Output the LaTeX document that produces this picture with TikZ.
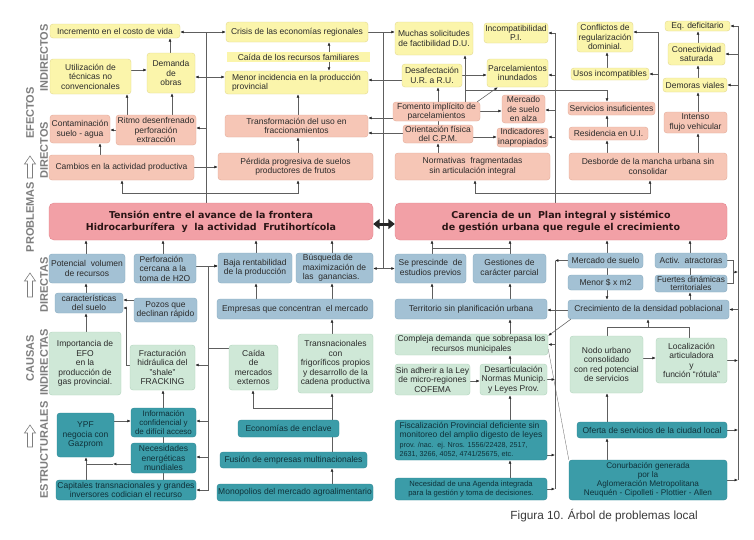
\documentclass[tikz,border=0pt]{standalone}
\usepackage{fontspec}
\setmainfont{Liberation Sans}
\newfontfamily\titlefont{DejaVu Sans}
\usetikzlibrary{arrows.meta}
\pgfdeclarelayer{back}
\pgfdeclarelayer{bg}
\pgfsetlayers{back,bg,main}
\definecolor{yf}{HTML}{FBF5AB}
\definecolor{yd}{HTML}{E3D98F}
\definecolor{sf}{HTML}{F6C6B6}
\definecolor{sd}{HTML}{E5AB99}
\definecolor{rf}{HTML}{F2A0A6}
\definecolor{rd}{HTML}{E3868E}
\definecolor{bf}{HTML}{A3C1D4}
\definecolor{bd}{HTML}{87AAC0}
\definecolor{gf}{HTML}{CFE8D7}
\definecolor{gd}{HTML}{B2D5BE}
\definecolor{tf}{HTML}{3B9CA8}
\definecolor{td}{HTML}{2B8592}
\definecolor{lc}{HTML}{5E5E5E}
\definecolor{txt}{HTML}{2B2B2B}
\definecolor{ttxt}{HTML}{10323A}
\definecolor{rtxt}{HTML}{2A1515}
\definecolor{labc}{HTML}{7D7D7D}
\definecolor{capc}{HTML}{3A3A3A}
\newcommand\mkbox[7]{%
  \pgfmathsetmacro\bxw{#5-#3}%
  \pgfmathsetmacro\bxh{#6-#4}%
  \node[#2, minimum width=\bxw pt, minimum height=\bxh pt] (#1) at ({(#3+#5)/2},{(#4+#6)/2}) {#7};}
\newcommand\hollowup[3]{\draw[labc, line width=0.6pt, fill=white] (#1-2.5,#3) -- (#1-2.5,#2+8) -- (#1-5.5,#2+8) -- (#1,#2) -- (#1+5.5,#2+8) -- (#1+2.5,#2+8) -- (#1+2.5,#3) -- cycle;}
\begin{document}
\begin{tikzpicture}[x=1pt,y=-1pt,
  bxs/.style={rounded corners=3pt, inner sep=0.5pt, align=center, font=\fontsize{8.5}{9.5}\selectfont, line width=0.4pt, text=txt},
  yb/.style={bxs, fill=yf, draw=yd},
  sb/.style={bxs, fill=sf, draw=sd},
  rb/.style={bxs, fill=rf, draw=rd, rounded corners=5pt, font=\titlefont\fontsize{9.5}{12.5}\selectfont\bfseries, text=rtxt},
  bb/.style={bxs, fill=bf, draw=bd},
  gb/.style={bxs, fill=gf, draw=gd},
  tb/.style={bxs, fill=tf, draw=td, text=ttxt},
  ln/.style={draw=lc, line width=0.55pt},
  arr/.style={ln, -{Latex[length=3.4pt,width=2.8pt,color=black!85]}},
  lab/.style={rotate=90, font=\fontsize{11}{12}\selectfont\bfseries, text=labc, inner sep=0pt},
  dbl/.style={draw=black!85, line width=3pt, {Triangle[length=6.5pt,width=10pt]}-{Triangle[length=6.5pt,width=10pt]}}
]
\useasboundingbox (0,0) rectangle (754,539);
\begin{pgfonlayer}{back}
\fill[white] (0,0) rectangle (754,539);
\end{pgfonlayer}

% ---------- section labels ----------
\node[lab] (lEfe) at (30,113) {EFECTOS};
\node[lab] (lInd) at (44,58) {INDIRECTOS};
\node[lab] (lDir) at (44,150) {DIRECTOS};
\node[lab] (lPro) at (30,217) {PROBLEMAS};
\node[lab] (lDta) at (44,285) {DIRECTAS};
\node[lab] (lCau) at (30,358) {CAUSAS};
\node[lab] (lIta) at (44,362) {INDIRECTAS};
\node[lab] (lEst) at (44,450) {ESTRUCTURALES};
\hollowup{30}{156}{178}
\hollowup{30}{273}{297}
\hollowup{30}{425}{447}

% ---------- effects (yellow) ----------
\mkbox{inc}{yb}{50}{24}{180}{38}{Incremento en el costo de vida}
\mkbox{uti}{yb}{50}{59}{131}{94}{Utilización de\\técnicas no\\convencionales}
\mkbox{dem}{yb}{147}{53}{195}{93}{Demanda\\de\\obras}
\mkbox{cri}{yb}{226}{22}{368}{42}{Crisis de las economías regionales}
\mkbox{caf}{yb,rounded corners=0pt,draw=none}{227}{52}{370}{62}{Caída de los recursos familiares}
\mkbox{men}{yb,align=left}{225}{71}{368}{94}{Menor incidencia en la producción\\provincial}
\mkbox{muc}{yb}{395}{22}{473}{55}{Muchas solicitudes\\de factibilidad D.U.}
\mkbox{inp}{yb}{484}{23}{548}{43}{Incompatibilidad\\P.I.}
\mkbox{des}{yb}{402}{64}{462}{87}{Desafectación\\U.R. a R.U.}
\mkbox{par}{yb}{487}{59}{548}{87}{Parcelamientos\\inundados}
\mkbox{con}{yb}{577}{22}{633}{52}{Conflictos de\\regularización\\dominial.}
\mkbox{eqd}{yb}{665}{21}{730}{31}{Eq. deficitario}
\mkbox{cns}{yb}{668}{43}{725}{65}{Conectividad\\saturada}
\mkbox{uso}{yb}{571}{68}{649}{80}{Usos incompatibles}
\mkbox{dmv}{yb}{663}{78}{727}{92}{Demoras viales}

% ---------- effects (salmon) ----------
\mkbox{ctm}{sb}{50}{115}{110}{143}{Contaminación\\suelo - agua}
\mkbox{rit}{sb}{116}{115}{196}{145}{Ritmo desenfrenado\\perforación\\extracción}
\mkbox{cam}{sb}{49}{155}{194}{180}{Cambios en la actividad productiva}
\mkbox{tra}{sb}{225}{115}{368}{137}{Transformación del uso en\\fraccionamientos}
\mkbox{per}{sb}{218}{153}{373}{180}{Pérdida progresiva de suelos\\productores de frutos}
\mkbox{fom}{sb}{393}{102}{480}{121}{Fomento implícito de\\parcelamientos}
\mkbox{mer}{sb}{502}{95}{545}{123}{Mercado\\de suelo\\en alza}
\mkbox{ori}{sb}{403}{125}{473}{143}{Orientación física\\del C.P.M.}
\mkbox{ind}{sb}{497}{128}{548}{147}{Indicadores\\inapropiados}
\mkbox{nor}{sb}{395}{153}{550}{180}{Normativas\ \ fragmentadas\\sin articulación integral}
\mkbox{ser}{sb}{568}{102}{655}{115}{Servicios insuficientes}
\mkbox{res}{sb}{569}{127}{648}{140}{Residencia en U.I.}
\mkbox{int}{sb}{664}{112}{727}{133}{Intenso\\flujo vehicular}
\mkbox{dbo}{sb}{569}{153}{727}{180}{Desborde de la mancha urbana sin\\consolidar}

% ---------- problems ----------
\mkbox{ten}{rb}{49}{203}{373}{240}{Tensión entre el avance de la frontera\\Hidrocarburífera\ \ y\ \ la actividad\ \ Frutihortícola}
\mkbox{car}{rb}{395}{203}{727}{240}{Carencia de un\ \ Plan integral y sistémico\\de gestión urbana que regule el crecimiento}

% ---------- direct causes (blue) ----------
\mkbox{pot}{bb}{49}{254}{125}{283}{Potencial\ \ volumen\\de recursos}
\mkbox{pce}{bb,align=left}{134}{254}{196}{283}{Perforación\\cercana a la\\toma de H2O}
\mkbox{cs}{bb}{55}{293}{123}{313}{características\\del suelo}
\mkbox{poz}{bb}{134}{298}{197}{322}{Pozos que\\declinan rápido}
\mkbox{baj}{bb}{218}{253}{292}{283}{Baja rentabilidad\\de la producción}
\mkbox{bus}{bb,align=left}{296}{253}{373}{283}{Búsqueda de\\maximización de\\las\ \ ganancias.}
\mkbox{emp}{bb}{217}{299}{373}{319}{Empresas que concentran\ \ el mercado}
\mkbox{sep}{bb}{395}{254}{466}{283}{Se prescinde\ \ de\\estudios previos}
\mkbox{ges}{bb}{473}{254}{546}{283}{Gestiones de\\carácter parcial}
\mkbox{ter}{bb}{395}{299}{547}{319}{Territorio sin planificación urbana}
\mkbox{mds}{bb}{568}{253}{643}{268}{Mercado de suelo}
\mkbox{act}{bb}{655}{253}{727}{268}{Activ.\ \ atractoras}
\mkbox{mnr}{bb}{568}{275}{643}{290}{Menor \$ x m2}
\mkbox{fue}{bb,font=\fontsize{8.3}{8.6}\selectfont}{655}{275}{727}{292}{Fuertes dinámicas\\territoriales}
\mkbox{cre}{bb}{568}{300}{729}{319}{Crecimiento de la densidad poblacional}

% ---------- indirect causes (green) ----------
\mkbox{imp}{gb}{49}{332}{121}{395}{Importancia de\\EFO\\en la\\producción de\\gas provincial.}
\mkbox{fra}{gb}{130}{345}{195}{390}{Fracturación\\hidráulica del\\"shale"\\FRACKING}
\mkbox{cai}{gb}{229}{345}{278}{390}{Caída\\de\\mercados\\externos}
\mkbox{trn}{gb}{298}{334}{373}{393}{Transnacionales\\con\\frigoríficos propios\\y desarrollo de la\\cadena productiva}
\mkbox{cmp}{gb}{395}{334}{548}{355}{Compleja demanda\ \ que sobrepasa los\\recursos municipales}
\mkbox{sin}{gb}{395}{364}{470}{395}{Sin adherir a la Ley\\de micro-regiones\\COFEMA}
\mkbox{dsa}{gb}{480}{364}{547}{395}{Desarticulación\\Normas Municip.\\y Leyes Prov.}
\mkbox{nod}{gb}{570}{336}{643}{393}{Nodo urbano\\consolidado\\con red potencial\\de servicios}
\mkbox{loc}{gb}{656}{338}{727}{383}{Localización\\articuladora\\y\\función ``rótula''}

% ---------- structural causes (teal) ----------
\mkbox{ypf}{tb}{57}{413}{114}{457}{YPF\\negocia con\\Gazprom}
\mkbox{inf}{tb,font=\fontsize{8}{9.3}\selectfont}{131}{408}{196}{437}{Información\\confidencial y\\de difícil acceso}
\mkbox{nec}{tb}{131}{443}{196}{473}{Necesidades\\energéticas\\mundiales}
\mkbox{capt}{tb}{56}{480}{196}{500}{Capitales transnacionales y grandes\\inversores codician el recurso}
\mkbox{eco}{tb}{238}{420}{339}{437}{Economías de enclave}
\mkbox{fus}{tb}{220}{452}{367}{468}{Fusión de empresas multinacionales}
\mkbox{mon}{tb}{217}{484}{373}{501}{Monopolios del mercado agroalimentario}
\mkbox{fis}{tb,align=left}{395}{420}{547}{460}{Fiscalización Provincial deficiente sin\\monitoreo del amplio digesto de leyes\\\fontsize{7.2}{8}\selectfont prov. /nac.\ \ ej. Nros. 1556/22428, 2517,\\\fontsize{7.2}{8}\selectfont 2631, 3266, 4052, 4741/25675, etc.}
\mkbox{nea}{tb,font=\fontsize{7.6}{8.8}\selectfont}{395}{478}{547}{500}{Necesidad de una Agenda integrada\\para la gestión y toma de decisiones.}
\mkbox{ofe}{tb}{577}{422}{727}{438}{Oferta de servicios de la ciudad local}
\mkbox{cnu}{tb,font=\fontsize{8.2}{9}\selectfont}{569}{460}{727}{500}{Conurbación generada\\por la\\Aglomeración Metropolitana\\Neuquén - Cipolleti - Plottier - Allen}

% caption
\node[anchor=base east, inner sep=0pt, font=\fontsize{11.8}{12}\selectfont, text=capc] (cap) at (698,519) {Figura 10. Árbol de problemas local};

% double arrow between the problems
\draw[dbl] (ten.east |- 0,224) -- (car.west |- 0,224);

\begin{pgfonlayer}{bg}
% ----- left effects -----
\draw[arr] (dem.north -| 170,0) -- (inc.south -| 170,0);
\draw[arr] (uti.east |- 0,70) -- (dem.west |- 0,70);
\draw[arr] (rit.north -| 172,0) -- (dem.south -| 172,0);
\draw[arr] (rit.north -| 127,0) -- (uti.south -| 127,0);
\draw[arr] (rit.west |- 0,130) -- (ctm.east |- 0,130);
\draw[arr] (cam.north -| 100,0) -- (ctm.south -| 100,0);
\draw[arr] (cam.east |- 0,167) -- (per.west |- 0,167);
\draw[arr] (ten.north -| 206,0) |- (inc.east |- 0,32);
\draw[arr] (ten.north -| 206,0) |- (cri.west |- 0,32);
\draw[arr] (ten.north -| 206,0) |- (dem.east |- 0,77);
\draw[arr] (ten.north -| 206,0) |- (men.west |- 0,77);
\draw[arr] (ten.north -| 206,0) |- (rit.east |- 0,128);
\draw[arr] (ten.north -| 206,0) -- (206,193) -| (cam.south -| 122,0);
\draw[arr] (ten.north -| 206,0) -- (206,193) -| (per.south -| 298,0);
\draw[arr] (per.north -| 298,0) -- (tra.south -| 298,0);
\draw[arr] (tra.north -| 298,0) -- (men.south -| 298,0);
\draw[arr] (caf.north -| 329,0) -- (cri.south -| 329,0);
\draw[arr] (caf.south -| 329,0) -- (men.north -| 329,0);
% ----- middle bus -----
\draw[arr] (cri.east |- 0,32) -- (muc.west |- 0,32);
\draw[ln] (cri.east |- 0,32) -| (sep.west -| 383,0);
\draw[arr] (sep.west -| 383,0) -- (sep.west);
\draw[arr] (sep.west -| 383,0) -- (bus.east |- sep.west);
\draw[arr] (des.west |- 0,80) -- (men.east |- 0,80);
\draw[arr] (fom.west |- 0,118) -- (tra.east |- 0,118);
\draw[arr] (ori.west |- 0,133) -- (tra.east |- 0,133);
% ----- right-middle effects -----
\draw[arr] (nor.north -| 438,0) -- (ori.south -| 438,0);
\draw[ln] (ori.north -| 438,0) -- (fom.south -| 438,0);
\draw[arr] (fom.north -| 438,0) -- (des.south -| 438,0);
\draw[arr] (fom.north -| 465,0) -- (muc.south -| 465,0);
\draw[arr] (des.east |- 0,75) -- (par.west |- 0,75);
\draw[arr] ([xshift=-3pt]fom.north east) -- ([xshift=11pt]par.south west);
\draw[arr] (fom.east |- 0,111) -- (mer.west |- 0,111);
\draw[arr] (ori.east |- 0,137) -- (ind.west |- 0,137);
\draw[arr] (fom.north -| 465,0) -- (465,90) -| (ser.north -| 607,0);
\draw[arr] (car.north -| 555,0) |- (inp.east);
\draw[arr] (car.north -| 555,0) |- (par.east |- 0,75);
\draw[arr] (car.north -| 555,0) |- (mer.east |- 0,110);
\draw[arr] (car.north -| 555,0) |- (ind.east |- 0,137);
\draw[arr] (car.north -| 555,0) -- (555,193) -| (nor.south -| 475,0);
\draw[arr] (car.north -| 555,0) -- (555,193) -| (dbo.south -| 650,0);
% ----- right effects -----
\draw[arr] (dbo.north -| 607,0) -- (res.south -| 607,0);
\draw[arr] (res.north -| 607,0) -- (ser.south -| 607,0);
\draw[arr] (uso.north -| 607,0) -- (con.south -| 607,0);
\draw[arr] (dbo.north -| 658,0) |- (con.east |- 0,32);
\draw[arr] (dbo.north -| 658,0) |- (uso.east);
\draw[arr] (dbo.north -| 698,0) -- (int.south -| 698,0);
\draw[arr] (int.north -| 698,0) -- (dmv.south -| 698,0);
\draw[arr] (dmv.north -| 698,0) -- (cns.south -| 698,0);
\draw[arr] (cns.north -| 698,0) -- (eqd.south -| 698,0);
% ----- right bus -----
\draw[ln] (eqd.east -| 738,0) -- (cnu.east -| 738,0);
\draw[arr] (eqd.east -| 738,0) -- (eqd.east);
\draw[arr] (cns.east -| 738,0) -- (cns.east);
\draw[arr] (dmv.east -| 738,0) -- (dmv.east);
\draw[arr] (cre.east -| 738,0) -- (cre.east);
\draw[arr] (loc.east) -- (loc.east -| 738,0);
\draw[arr] (ofe.east) -- (ofe.east -| 738,0);
\draw[arr] (cnu.east) -- (cnu.east -| 738,0);
\draw[ln] (act.east) -- (733,260.5) -- (733,283.5) -- (fue.east);
\draw[arr] (733,272) -- (738,272);
% ----- into problems -----
\draw[arr] (pot.north -| 86,0) -- (ten.south -| 86,0);
\draw[arr] (pce.north -| 163,0) -- (ten.south -| 163,0);
\draw[arr] (baj.north -| 256,0) -- (ten.south -| 256,0);
\draw[arr] (bus.north -| 332,0) -- (ten.south -| 332,0);
\draw[arr] (sep.north -| 432,0) -- (car.south -| 432,0);
\draw[arr] (ges.north -| 510,0) -- (car.south -| 510,0);
\draw[ln] (sep.north -| 432,0) -- (432,248) -| (ges.north -| 510,0);
\draw[arr] (mds.north -| 607,0) -- (car.south -| 607,0);
\draw[arr] (act.north -| 690,0) -- (car.south -| 690,0);
% ----- left causes -----
\draw[arr] (cs.north -| 86,0) -- (pot.south -| 86,0);
\draw[arr] (poz.west |- 0,300) -- (cs.east |- 0,300);
\draw[arr] (fra.west |- 0,365) -- (126,365) |- (cs.east |- 0,308);
\draw[arr] (pce.east |- 0,266) -- (baj.west |- 0,266);
\draw[arr] (cai.west |- 0,348) -- (208,348) |- (baj.west |- 0,266);
\draw[arr] (cai.west |- 0,348) -- (208,348) |- (fra.east |- 0,365);
\draw[arr] (cai.west |- 0,348) -- (208,348) |- (inf.east |- 0,421);
\draw[arr] (cai.west |- 0,348) -- (208,348) |- (nec.east |- 0,457);
\draw[arr] (cai.west |- 0,348) -- (208,348) |- (capt.east |- 0,490);
\draw[arr] (emp.north -| 256,0) -- (baj.south -| 256,0);
\draw[arr] (emp.north -| 332,0) -- (bus.south -| 332,0);
\draw[arr] (trn.north -| 332,0) -- (emp.south -| 332,0);
\draw[arr] (imp.north -| 86,0) -- (cs.south -| 86,0);
\draw[arr] (inf.north -| 163,0) -- (fra.south -| 163,0);
\draw[ln] (nec.north -| 163,0) -- (inf.south -| 163,0);
\draw[ln] (capt.north -| 163,0) -- (nec.south -| 163,0);
\draw[arr] (ypf.east |- 0,421) -- (inf.west |- 0,421);
\draw[arr] (capt.north -| 86,0) -- (ypf.south -| 86,0);
\draw[arr] (nec.west |- 0,464) -- (113,464);
\draw[ln] (113,464) -- (86,464);
\draw[arr] (eco.north -| 332,0) -- (trn.south -| 332,0);
\draw[arr] (eco.north -| 332,0) -- (332,408) -| (cai.south -| 253,0);
\draw[ln] (fus.north -| 332,0) -- (eco.south -| 332,0);
\draw[arr] (mon.north -| 332,0) -- (fus.south -| 332,0);
% ----- right causes -----
\draw[arr] (ter.north -| 432,0) -- (sep.south -| 432,0);
\draw[arr] (ter.north -| 510,0) -- (ges.south -| 510,0);
\draw[arr] (cmp.north -| 510,0) -- (ter.south -| 510,0);
\draw[arr] (cre.west |- 0,310) -- (ter.east |- 0,310);
\draw[arr] ([xshift=3pt]cre.south west) -- ([yshift=-2pt]cmp.north east);
\draw[lc, line width=0.3pt] (cnu.north west) -- (cmp.east |- 0,349);
\draw[ln] (mds.west -| 555,0) -- (nea.east -| 555,0);
\draw[arr] (mds.west) -- (mds.west -| 555,0);
\draw[arr] (dsa.east) -- (dsa.east -| 555,0);
\draw[arr] (fis.east |- 0,455) -- (555,455);
\draw[arr] (nea.east) -- (nea.east -| 555,0);
\draw[arr] (cmp.east -| 555,0) -- (cmp.east);
\draw[arr] (sin.east |- 0,381) -- (dsa.west |- 0,381);
\draw[arr] (dsa.north -| 510,0) -- (cmp.south -| 510,0);
\draw[arr] (fis.north -| 510,0) -- (dsa.south -| 510,0);
\draw[arr] (nea.north -| 510,0) -- (fis.south -| 510,0);
% ----- right bottom -----
\draw[arr] (nod.east |- 0,358) -- (loc.west |- 0,358);
\draw[ln] (nod.north -| 607,0) -- (607,327) -| (loc.north -| 689,0);
\draw[arr] (648,327) -- (cre.south -| 648,0);
\draw[arr] (ofe.north -| 607,0) -- (nod.south -| 607,0);
\draw[arr] (cnu.north -| 607,0) -- (ofe.south -| 607,0);
\draw[ln] (mds.south -| 607,0) -- (mnr.north -| 607,0);
\draw[arr] (mnr.south -| 607,0) -- (cre.north -| 607,0);
\draw[ln] (act.south -| 690,0) -- (fue.north -| 690,0);
\draw[arr] (cre.north -| 690,0) -- (fue.south -| 690,0);
\end{pgfonlayer}
\end{tikzpicture}
\end{document}
